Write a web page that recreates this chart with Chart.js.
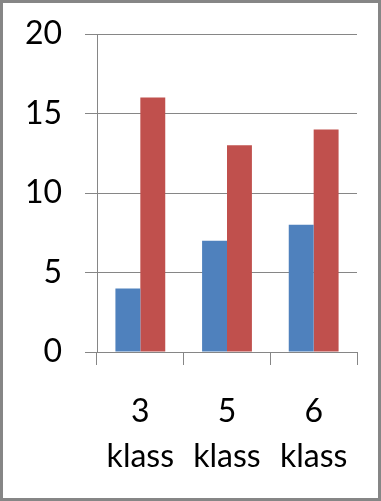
<!DOCTYPE html>
<html>
<head>
<meta charset="utf-8">
<script src="https://cdn.jsdelivr.net/npm/chart.js@4"></script>
<style>
  html, body { margin: 0; padding: 0; background: #fff; }
  #wrap { width: 381px; height: 501px; position: relative; }
</style>
</head>
<body>
<div id="wrap"><canvas id="chart" width="381" height="501"></canvas></div>
<script>
const categories = [["3", "klass"], ["5", "klass"], ["6", "klass"]];
const seriesBlue = [4, 7, 8];
const seriesRed = [16, 13, 14];
const yTicks = [0, 5, 10, 15, 20];

const gridColor = "#868686";
const fontSpec = { family: "Lato, 'Liberation Sans', sans-serif", size: 32, lineHeight: 1.42 };

// frame around the whole picture
const framePlugin = {
  id: "frame",
  afterDraw(chart) {
    const c = chart.ctx;
    c.save();
    c.strokeStyle = gridColor;
    c.lineWidth = 3;
    c.strokeRect(1.5, 1.5, chart.width - 3, chart.height - 3);
    c.restore();
  },
};

const ctx = document.getElementById("chart").getContext("2d");
new Chart(ctx, {
  type: "bar",
  data: {
    labels: categories,
    datasets: [
      { label: "Series 1", data: seriesBlue, backgroundColor: "#4F81BD", barPercentage: 1, categoryPercentage: 0.575 },
      { label: "Series 2", data: seriesRed, backgroundColor: "#C0504D", barPercentage: 1, categoryPercentage: 0.575 },
    ],
  },
  options: {
    responsive: false,
    animation: false,
    layout: { padding: { top: 34, right: 24, left: 0, bottom: 0 } },
    plugins: { legend: { display: false }, tooltip: { enabled: false } },
    scales: {
      x: {
        afterFit: (s) => { s.height = 149; s.paddingLeft = 0; s.paddingRight = 0; },
        grid: { offset: true, drawOnChartArea: false, color: gridColor, tickLength: 13 },
        border: { display: false },
        ticks: { color: "#000", font: fontSpec, padding: 24, maxRotation: 0 },
      },
      y: {
        min: 0,
        max: 20,
        afterFit: (s) => { s.width = 97; s.paddingTop = 0; s.paddingBottom = 0; },
        afterBuildTicks: (s) => { s.ticks = yTicks.map((v) => ({ value: v })); },
        grid: { color: gridColor, tickLength: 12 },
        border: { color: gridColor },
        ticks: { color: "#000", font: fontSpec, padding: 23 },
      },
    },
  },
  plugins: [framePlugin],
});
</script>
</body>
</html>
